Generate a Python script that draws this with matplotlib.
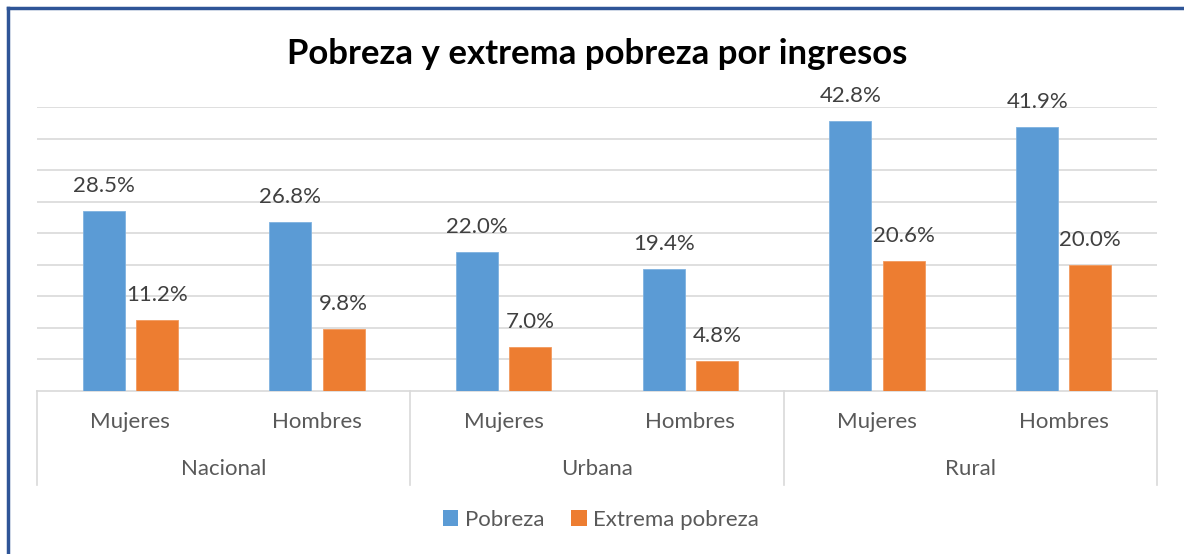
import matplotlib
matplotlib.use("Agg")
import matplotlib.pyplot as plt
from matplotlib.patches import Patch
from matplotlib.lines import Line2D
import numpy as np

groups = ["Nacional", "Urbana", "Rural"]
sexes = ["Mujeres", "Hombres"]
pobreza = [28.5, 26.8, 22.0, 19.4, 42.8, 41.9]
extrema = [11.2, 9.8, 7.0, 4.8, 20.6, 20.0]
series_names = ["Pobreza", "Extrema pobreza"]
title = "Pobreza y extrema pobreza por ingresos"

BLUE = "#5B9BD5"
ORANGE = "#ED7D31"
GRID = "#D9D9D9"
TXT = "#404040"
FONT = "Lato"

plt.rcParams["font.family"] = [FONT, "DejaVu Sans"]

W, H = 1184, 554
fig = plt.figure(figsize=(W / 100, H / 100), dpi=100)
ax_l, ax_r, ax_b, ax_t = 37, 1157, 391, 107
ax = fig.add_axes([ax_l / W, 1 - ax_b / H, (ax_r - ax_l) / W, (ax_b - ax_t) / H])

n = len(pobreza)
x = np.arange(n)
bw = 0.225
off = 0.142
b1 = ax.bar(x - off, pobreza, bw, color=BLUE, edgecolor="#7FB2E0", linewidth=0.6, zorder=3)
b2 = ax.bar(x + off, extrema, bw, color=ORANGE, edgecolor="#F29A5E", linewidth=0.6, zorder=3)

ax.set_xlim(-0.5, n - 0.5)
ax.set_ylim(0, 45)
ax.set_yticks(np.arange(5, 46, 5))
ax.yaxis.grid(True, color=GRID, linewidth=1.2, zorder=0)
ax.tick_params(left=False, labelleft=False, bottom=False, labelbottom=False)
for s in ["left", "right", "top"]:
    ax.spines[s].set_visible(False)
ax.spines["bottom"].set_color(GRID)
ax.spines["bottom"].set_linewidth(1.2)

for bars, vals in ((b1, pobreza), (b2, extrema)):
    for r, v in zip(bars, vals):
        ax.annotate(f"{v:.1f}%", (r.get_x() + r.get_width() / 2, v),
                    xytext=(0, 18), textcoords="offset points",
                    ha="center", va="center", fontsize=16, color=TXT,
                    annotation_clip=False)

tr = ax.get_xaxis_transform()
axh = ax_b - ax_t
y_tick = -(422 - ax_b) / axh
y_grp = -(469 - ax_b) / axh
y_sep = -(485 - ax_b) / axh
for i in range(n):
    ax.text(x[i], y_tick, sexes[i % 2], transform=tr, ha="center", va="center",
            fontsize=16, color="#595959")
for g, name in enumerate(groups):
    ax.text(2 * g + 0.5, y_grp, name, transform=tr, ha="center", va="center",
            fontsize=16, color="#595959")
for g in range(len(groups) + 1):
    xs = 2 * g - 0.5
    ax.add_line(Line2D([xs, xs], [0, y_sep], transform=tr, color=GRID,
                       linewidth=1.2, clip_on=False))

fig.text((ax_l + ax_r) / 2 / W, 1 - 54 / H, title, ha="center", va="center",
         fontsize=25, fontweight="bold", color="black")

handles = [Patch(facecolor=BLUE), Patch(facecolor=ORANGE)]
fig.legend(handles, series_names, loc="center", bbox_to_anchor=(601 / W, 1 - 520 / H),
           ncol=2, frameon=False, fontsize=16, handlelength=0.7, handleheight=0.7,
           handletextpad=0.3, columnspacing=1.2, labelcolor="#595959")

# chart border (top and left visible)
fig.add_artist(Line2D([8 / W, 8 / W], [0, 1 - 8 / H], transform=fig.transFigure,
                      color="#2F5597", linewidth=2.5))
fig.add_artist(Line2D([8 / W, 1], [1 - 8 / H, 1 - 8 / H], transform=fig.transFigure,
                      color="#2F5597", linewidth=2.5))

fig.savefig("out.png", dpi=100)
